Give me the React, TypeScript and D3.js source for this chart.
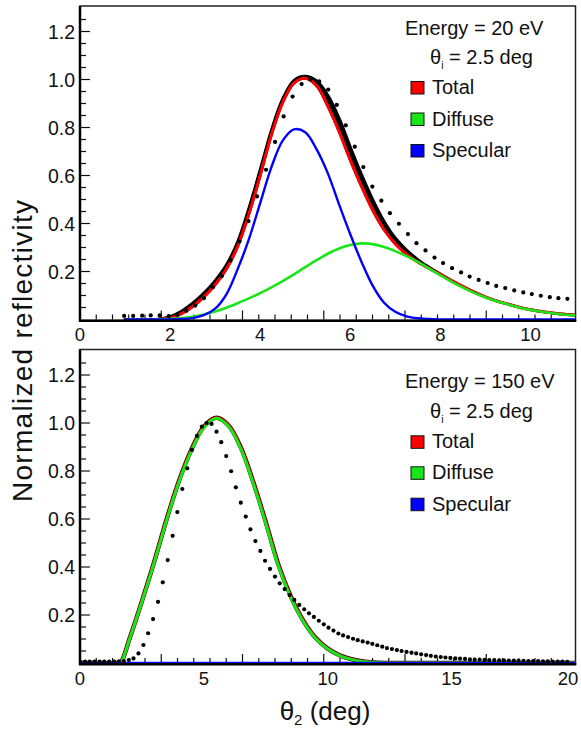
import React from "react";
import * as d3 from "d3";

const FONT = "'Liberation Sans', Arial, Helvetica, sans-serif";

// ---------- Top panel (20 eV) ----------
const topX = [1.0, 1.25, 1.5, 1.75, 2.0, 2.25, 2.5, 2.75, 3.0, 3.25, 3.5, 3.75, 4.0, 4.25, 4.5, 4.75, 5.0, 5.25, 5.5, 5.75, 6.0, 6.25, 6.5, 6.75, 7.0, 7.25, 7.5, 7.75, 8.0, 8.25, 8.5, 8.75, 9.0, 9.25, 9.5, 9.75, 10.0, 10.25, 10.5, 10.75, 11.0];
const topTotal = [0, 0, 0, 0.001, 0.006, 0.024, 0.054, 0.094, 0.145, 0.21, 0.305, 0.44, 0.6, 0.77, 0.905, 0.985, 1.005, 0.975, 0.89, 0.785, 0.665, 0.555, 0.455, 0.375, 0.315, 0.272, 0.24, 0.213, 0.188, 0.162, 0.137, 0.114, 0.094, 0.077, 0.064, 0.051, 0.041, 0.033, 0.027, 0.022, 0.018];
const topTotalUpper = [0, 0, 0, 0.002, 0.012, 0.035, 0.068, 0.11, 0.162, 0.228, 0.325, 0.465, 0.625, 0.79, 0.92, 0.997, 1.014, 0.995, 0.935, 0.84, 0.72, 0.605, 0.5, 0.41, 0.34, 0.29, 0.25, 0.218, 0.19, 0.162, 0.137, 0.114, 0.094, 0.077, 0.064, 0.051, 0.041, 0.033, 0.027, 0.022, 0.018];
const topDiffuse = [0, 0, 0, 0.001, 0.003, 0.006, 0.011, 0.021, 0.033, 0.049, 0.068, 0.088, 0.11, 0.134, 0.16, 0.188, 0.218, 0.247, 0.274, 0.296, 0.31, 0.317, 0.314, 0.302, 0.285, 0.264, 0.24, 0.212, 0.184, 0.157, 0.133, 0.111, 0.092, 0.076, 0.063, 0.05, 0.04, 0.032, 0.026, 0.021, 0.017];
const topSpecular = [0, 0, 0, 0, 0, 0.002, 0.006, 0.018, 0.045, 0.105, 0.21, 0.335, 0.485, 0.635, 0.745, 0.792, 0.78, 0.71, 0.61, 0.48, 0.355, 0.24, 0.14, 0.07, 0.032, 0.013, 0.005, 0.002, 0, 0, 0, 0, 0, 0, 0, 0, 0, 0, 0, 0, 0];
const topDotX = [0.98, 1.18, 1.38, 1.57, 1.77, 1.97, 2.16, 2.36, 2.56, 2.75, 2.95, 3.15, 3.34, 3.54, 3.74, 3.93, 4.13, 4.33, 4.52, 4.72, 4.92, 5.11, 5.31, 5.51, 5.7, 5.9, 6.1, 6.29, 6.49, 6.69, 6.88, 7.08, 7.28, 7.47, 7.67, 7.87, 8.06, 8.26, 8.46, 8.65, 8.85, 9.05, 9.24, 9.44, 9.64, 9.84, 10.03, 10.23, 10.43, 10.62, 10.82];
const topDotY = [0.015, 0.015, 0.016, 0.017, 0.017, 0.014, 0.02, 0.036, 0.058, 0.089, 0.134, 0.181, 0.247, 0.325, 0.41, 0.513, 0.624, 0.74, 0.846, 0.929, 0.981, 1.0, 0.992, 0.958, 0.894, 0.809, 0.72, 0.635, 0.554, 0.495, 0.443, 0.399, 0.356, 0.318, 0.288, 0.258, 0.235, 0.214, 0.196, 0.179, 0.165, 0.152, 0.14, 0.131, 0.121, 0.113, 0.106, 0.099, 0.093, 0.089, 0.086];
const topXTicks = [0, 2, 4, 6, 8, 10];

// ---------- Bottom panel (150 eV) ----------
const botX = [0, 0.5, 1.0, 1.5, 1.65, 2.0, 2.5, 3.0, 3.5, 4.0, 4.5, 5.0, 5.5, 6.0, 6.5, 7.0, 7.5, 8.0, 8.5, 9.0, 9.5, 10.0, 10.5, 11.0, 11.5, 12.0, 13, 14, 15, 16, 17, 18, 19, 20];
const botDiffuse = [0, 0, 0, 0, 0.003, 0.1, 0.255, 0.42, 0.596, 0.755, 0.885, 0.98, 1.02, 0.985, 0.89, 0.745, 0.58, 0.405, 0.275, 0.175, 0.103, 0.058, 0.03, 0.014, 0.005, 0.001, 0, 0, 0, 0, 0, 0, 0, 0];
const botTotal = [0, 0, 0, 0, 0.004, 0.102, 0.258, 0.423, 0.6, 0.76, 0.89, 0.985, 1.022, 0.99, 0.896, 0.752, 0.587, 0.412, 0.28, 0.179, 0.106, 0.06, 0.031, 0.015, 0.005, 0.001, 0, 0, 0, 0, 0, 0, 0, 0];
const botSpecular = [0, 0, 0, 0, 0, 0, 0, 0, 0, 0, 0, 0, 0, 0, 0, 0, 0, 0, 0, 0, 0, 0, 0, 0, 0, 0, 0, 0, 0, 0, 0, 0, 0, 0];
const botDotX = [0, 0.2, 0.39, 0.59, 0.79, 0.98, 1.18, 1.38, 1.57, 1.77, 1.97, 2.16, 2.36, 2.56, 2.75, 2.95, 3.15, 3.34, 3.54, 3.74, 3.93, 4.13, 4.33, 4.52, 4.72, 4.92, 5.11, 5.31, 5.51, 5.7, 5.9, 6.1, 6.29, 6.49, 6.69, 6.88, 7.08, 7.28, 7.47, 7.67, 7.87, 8.06, 8.26, 8.46, 8.65, 8.85, 9.05, 9.24, 9.44, 9.64, 9.84, 10.03, 10.23, 10.43, 10.62, 10.82, 11.02, 11.21, 11.41, 11.61, 11.8, 12.0, 12.2, 12.39, 12.59, 12.79, 12.98, 13.18, 13.38, 13.57, 13.77, 13.97, 14.16, 14.36, 14.56, 14.75, 14.95, 15.15, 15.34, 15.54, 15.74, 15.93, 16.13, 16.33, 16.52, 16.72, 16.92, 17.11, 17.31, 17.51, 17.7, 17.9, 18.1, 18.29, 18.49, 18.69, 18.88, 19.08, 19.28, 19.47, 19.67];
const botDotY = [0.006, 0.006, 0.006, 0.006, 0.006, 0.006, 0.006, 0.006, 0.007, 0.008, 0.0125, 0.019, 0.04, 0.075, 0.124, 0.183, 0.255, 0.336, 0.429, 0.53, 0.629, 0.725, 0.811, 0.888, 0.946, 0.985, 1.0, 0.996, 0.964, 0.92, 0.862, 0.799, 0.732, 0.668, 0.61, 0.557, 0.508, 0.467, 0.426, 0.392, 0.36, 0.332, 0.308, 0.283, 0.263, 0.242, 0.224, 0.207, 0.192, 0.176, 0.161, 0.147, 0.135, 0.123, 0.115, 0.108, 0.101, 0.095, 0.09, 0.085, 0.08, 0.074, 0.068, 0.062, 0.058, 0.054, 0.05, 0.046, 0.043, 0.04, 0.036, 0.033, 0.03, 0.027, 0.025, 0.023, 0.021, 0.019, 0.018, 0.017, 0.015, 0.014, 0.014, 0.013, 0.012, 0.012, 0.011, 0.011, 0.01, 0.01, 0.009, 0.009, 0.008, 0.008, 0.008, 0.007, 0.007, 0.006, 0.006, 0.006, 0.005];
const botXTicks = [0, 5, 10, 15, 20];

const yTickLabels = [0.2, 0.4, 0.6, 0.8, 1.0, 1.2];
const legendNames = ["Total", "Diffuse", "Specular"];
const legendColors = ["#ff0000", "#19e619", "#0000ff"];

const COL_TOTAL = "#ff0000";
const COL_DIFF = "#19e619";
const COL_SPEC = "#0000ff";

type Pt = [number, number];
const zip = (xs: number[], ys: number[]): Pt[] => xs.map((x, i) => [x, ys[i]] as Pt);

interface PanelProps {
  id: string;
  xMax: number;
  yBottom: number;
  yTop: number;
  xTicks: number[];
  energy: string;
  legendY: number[];
  children: (x: d3.ScaleLinear<number, number>, y: d3.ScaleLinear<number, number>) => React.ReactNode;
}

const LEFT = 80;
const RIGHT = 575.5;
const W = 581;

function Panel({ id, xMax, yBottom, yTop, xTicks, energy, legendY, children }: PanelProps) {
  const x = d3.scaleLinear().domain([0, xMax]).range([LEFT, RIGHT]);
  const y = d3.scaleLinear().domain([0, 1.3]).range([yBottom, yTop]);
  // frame tick marks (spaced independently of the labels, as in the original)
  const tk = d3.scaleLinear().domain([0, 6]).range([LEFT, LEFT + 487.5]);
  const xMinor = d3.range(1, 30).map((i) => i / 5);
  const yMinor = d3.range(1, 26).map((i) => i * 0.05);
  const frameTop = yTop - 1.5;
  return (
    <g>
      <defs>
        <clipPath id={id}>
          <rect x={LEFT} y={frameTop} width={RIGHT - LEFT} height={yBottom - frameTop + 1} />
        </clipPath>
      </defs>
      <rect x={LEFT} y={frameTop} width={RIGHT - LEFT} height={yBottom - frameTop + 1} fill="white" stroke="#222" strokeWidth={1.5} />
      {xMinor.map((v, i) => {
        const major = Math.abs(v - Math.round(v)) < 1e-6;
        return <line key={"xt" + i} x1={tk(v)} x2={tk(v)} y1={yBottom} y2={yBottom - (major ? 9 : 5)} stroke="#111" strokeWidth={1.2} />;
      })}
      {yMinor.map((v, i) => {
        const major = Math.abs(v / 0.2 - Math.round(v / 0.2)) < 1e-6;
        return <line key={"yt" + i} x1={LEFT} x2={LEFT + (major ? 10 : 6)} y1={y(v)} y2={y(v)} stroke="#111" strokeWidth={1.2} />;
      })}
      <g clipPath={`url(#${id})`}>{children(x, y)}</g>
      <line x1={LEFT} x2={LEFT} y1={frameTop} y2={yBottom + 2} stroke="#000" strokeWidth={2.5} />
      <line x1={LEFT - 1} x2={RIGHT + 0.75} y1={yBottom + 1.3} y2={yBottom + 1.3} stroke="#000" strokeWidth={2.5} />
      {yTickLabels.map((v) => (
        <text key={"yl" + v} x={75} y={y(v) + 7} textAnchor="end" fontSize={19.5} fontFamily={FONT} fill="#111">
          {v.toFixed(1)}
        </text>
      ))}
      {xTicks.map((v) => (
        <text key={"xl" + v} x={Math.min(x(v), W - 13)} y={yBottom + 21.5} textAnchor="middle" fontSize={18.5} fontFamily={FONT} fill="#111">
          {v}
        </text>
      ))}
      <text x={405} y={legendY[0]} fontSize={20} fontFamily={FONT} fill="#111">
        {energy}
      </text>
      <text x={430} y={legendY[1]} fontSize={20} fontFamily={FONT} fill="#111">
        <tspan>θ</tspan>
        <tspan fontSize={10.5} dy={5}>i</tspan>
        <tspan dy={-5}> = 2.5 deg</tspan>
      </text>
      {legendNames.map((n, i) => (
        <g key={n}>
          <rect x={411} y={legendY[2 + i] - 12.5} width={13} height={12.5} fill={legendColors[i]} stroke="#111" strokeWidth={1} />
          <text x={432} y={legendY[2 + i]} fontSize={20} fontFamily={FONT} fill="#111">
            {n}
          </text>
        </g>
      ))}
    </g>
  );
}

export default function App() {
  const mkLine = (x: any, y: any) =>
    d3.line<Pt>().x((d) => x(d[0])).y((d) => y(d[1])).curve(d3.curveCatmullRom.alpha(0.5));
  return (
    <svg width={581} height={730} style={{ position: "absolute", left: 0, top: 0, background: "white" }}>
      <rect x={0} y={0} width={581} height={730} fill="white" />
      <Panel id="clipTop" xMax={11} yBottom={319.5} yTop={7.5} xTicks={topXTicks} energy="Energy = 20 eV" legendY={[35, 64, 94, 125.5, 157]}>
        {(x, y) => {
          const line = mkLine(x, y);
          const band = d3
            .area<[number, number, number]>()
            .x((d) => x(d[0]))
            .y0((d) => y(d[1]))
            .y1((d) => y(d[2]))
            .curve(d3.curveCatmullRom.alpha(0.5));
          const bandData = topX.map((v, i) => [v, topTotal[i], topTotalUpper[i]] as [number, number, number]);
          return (
            <g>
              <path d={band(bandData) || ""} fill="#000" stroke="#000" strokeWidth={2.8} strokeLinejoin="round" />
              <path d={line(zip(topX, topTotal)) || ""} fill="none" stroke={COL_TOTAL} strokeWidth={3} />
              <path d={line(zip(topX, topDiffuse)) || ""} fill="none" stroke={COL_DIFF} strokeWidth={2.6} />
              <path d={line(zip(topX, topSpecular)) || ""} fill="none" stroke={COL_SPEC} strokeWidth={2.4} />
              {zip(topDotX, topDotY).map((d, i) => (
                <circle key={i} cx={x(d[0])} cy={y(d[1])} r={2.1} fill="#000" />
              ))}
            </g>
          );
        }}
      </Panel>
      <Panel id="clipBot" xMax={20} yBottom={663} yTop={351} xTicks={botXTicks} energy="Energy = 150 eV" legendY={[388.3, 418.3, 448.3, 479.3, 510.7]}>
        {(x, y) => {
          const line = mkLine(x, y);
          return (
            <g>
              <path d={line(zip(botX, botTotal)) || ""} fill="none" stroke="#201008" strokeWidth={4.4} />
              <path d={line(zip(botX, botTotal)) || ""} fill="none" stroke={COL_TOTAL} strokeWidth={3} />
              <path d={line(zip(botX, botDiffuse)) || ""} fill="none" stroke={COL_DIFF} strokeWidth={3} />
              <path d={line(zip(botX, botSpecular)) || ""} fill="none" stroke={COL_SPEC} strokeWidth={2.6} />
              {zip(botDotX, botDotY).map((d, i) => (
                <circle key={i} cx={x(d[0])} cy={y(d[1])} r={2.1} fill="#000" />
              ))}
            </g>
          );
        }}
      </Panel>
      <text
        x={32}
        y={351}
        transform="rotate(-90, 32, 351)"
        textAnchor="middle"
        fontSize={28}
        fontFamily={FONT}
        fill="#111"
        textLength={302}
        lengthAdjust="spacing"
      >
        Normalized reflectivity
      </text>
      <text x={325} y={720} textAnchor="middle" fontSize={26} fontFamily={FONT} fill="#111">
        <tspan>θ</tspan>
        <tspan fontSize={15} dy={5}>2</tspan>
        <tspan dy={-5}> (deg)</tspan>
      </text>
    </svg>
  );
}
